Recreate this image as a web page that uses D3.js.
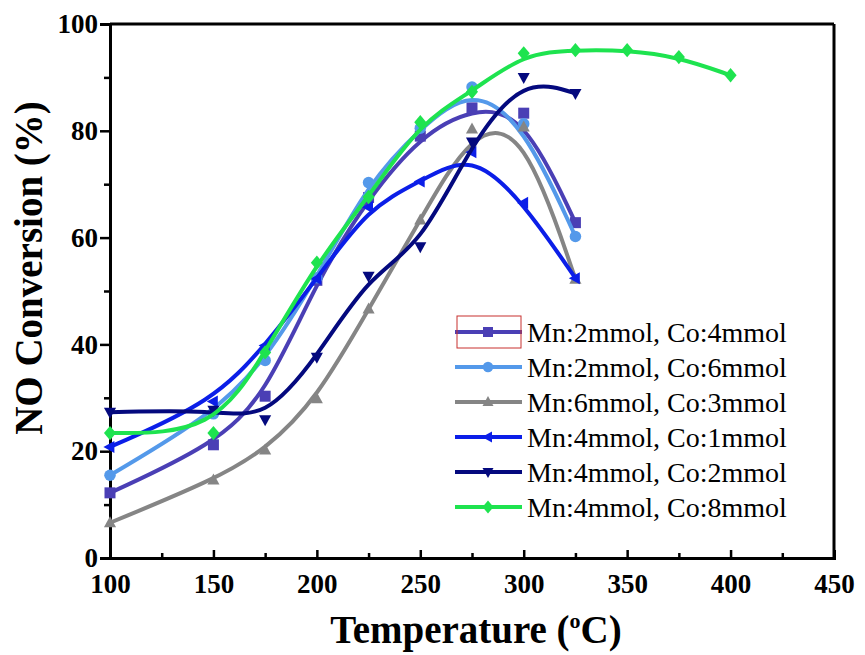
<!DOCTYPE html>
<html>
<head>
<meta charset="utf-8">
<script src="https://cdn.jsdelivr.net/npm/d3@7"></script>
<style>
  body { margin: 0; background: #fff; }
</style>
</head>
<body>
<svg id="chart" width="865" height="655"></svg>
<script>
const svg = d3.select('#chart')
const serif = "'Liberation Serif', 'Times New Roman', Times, 'Nimbus Roman', 'DejaVu Serif', serif"

// data
const temps = [100, 150, 175, 200, 225, 250, 275, 300, 325]
const tempsLong = [100, 150, 175, 200, 225, 250, 275, 300, 325, 350, 375, 400]
const mn2co4 = [12.2, 21.2, 30.3, 52, 67.5, 79, 84.3, 83.3, 62.8]
const mn2co6 = [15.5, 27, 37, 52.5, 70.3, 80.5, 88.2, 81.3, 60.2]
const mn6co3 = [6.6, 14.6, 20.2, 29.8, 46.6, 63.3, 80.3, 80.7, 52.2]
const mn4co1 = [20.8, 29.3, 39.8, 52.3, 65.7, 70.5, 76, 66.5, 52.4]
const mn4co2 = [27.3, 27.7, 25.9, 37.6, 52.8, 58.3, 77.9, 90, 87]
const mn4co8 = [23.4, 23.4, 38.5, 55.3, 67.6, 81.6, 87.3, 94.5, 95.1, 95.1, 93.8, 90.4]
const seriesNames = ['Mn:2mmol, Co:4mmol', 'Mn:2mmol, Co:6mmol', 'Mn:6mmol, Co:3mmol',
  'Mn:4mmol, Co:1mmol', 'Mn:4mmol, Co:2mmol', 'Mn:4mmol, Co:8mmol']
const xTicks = [100, 150, 200, 250, 300, 350, 400, 450]
const yTicks = [0, 20, 40, 60, 80, 100]

const series = [
  { name: seriesNames[0], x: temps, y: mn2co4, color: '#4a3fb5', shape: 'square' },
  { name: seriesNames[1], x: temps, y: mn2co6, color: '#5499ea', shape: 'circle' },
  { name: seriesNames[2], x: temps, y: mn6co3, color: '#858585', shape: 'up' },
  { name: seriesNames[3], x: temps, y: mn4co1, color: '#0b1ee8', shape: 'left' },
  { name: seriesNames[4], x: temps, y: mn4co2, color: '#04097e', shape: 'down' },
  { name: seriesNames[5], x: tempsLong, y: mn4co8, color: '#1ee34f', shape: 'diamond' }
]

const pLeft = 110, pRight = 834, pTop = 24, pBottom = 558

const xScale = d3.scaleLinear().domain([100, 450]).range([pLeft, pRight])
const yScale = d3.scaleLinear().domain([0, 100]).range([pBottom, pTop])

// markers
const markerPath = (shape, s) => {
  if (shape === 'square') return `M${-s},${-s}H${s}V${s}H${-s}Z`
  if (shape === 'circle') return d3.symbol(d3.symbolCircle, Math.PI * s * s * 1.1)()
  if (shape === 'up') return `M0,${-s * 1.2}L${s * 1.1},${s * 0.8}L${-s * 1.1},${s * 0.8}Z`
  if (shape === 'down') return `M0,${s * 1.2}L${s * 1.1},${-s * 0.8}L${-s * 1.1},${-s * 0.8}Z`
  if (shape === 'left') return `M${-s * 1.2},0L${s * 0.8},${-s * 1.1}L${s * 0.8},${s * 1.1}Z`
  if (shape === 'diamond') return `M0,${-s * 1.3}L${s * 1.1},0L0,${s * 1.3}L${-s * 1.1},0Z`
}

// frame: top and right borders
svg.append('line').attr('x1', pLeft).attr('x2', pRight).attr('y1', pTop).attr('y2', pTop)
  .attr('stroke', '#000').attr('stroke-width', 3)
svg.append('line').attr('x1', pRight).attr('x2', pRight).attr('y1', pTop).attr('y2', pBottom)
  .attr('stroke', '#000').attr('stroke-width', 3)

// y axis, ticks outward
svg.append('g')
  .attr('transform', `translate(${pLeft},0)`)
  .call(d3.axisLeft(yScale).tickValues(yTicks).tickSize(10).tickPadding(2).tickFormat(d3.format('d')))
svg.append('g')
  .attr('transform', `translate(${pLeft},0)`)
  .call(d3.axisLeft(yScale).tickValues([10, 30, 50, 70, 90]).tickSize(6).tickFormat(''))
  .select('.domain').remove()

// x axis, ticks inward
svg.append('g')
  .attr('transform', `translate(0,${pBottom})`)
  .call(d3.axisBottom(xScale).tickValues(xTicks).tickSize(-8).tickPadding(16).tickFormat(d3.format('d')))
svg.append('g')
  .attr('transform', `translate(0,${pBottom})`)
  .call(d3.axisBottom(xScale).tickValues([125, 175, 225, 275, 325, 375, 425]).tickSize(-5).tickFormat(''))
  .select('.domain').remove()

svg.selectAll('g').attr('font-family', serif)
svg.selectAll('.domain').attr('stroke-width', 3).attr('stroke', '#000')
svg.selectAll('.tick line').attr('stroke-width', 2.5).attr('stroke', '#000')
svg.selectAll('.tick text')
  .attr('font-family', serif)
  .attr('font-size', 27)
  .attr('font-weight', 'bold')
  .attr('fill', '#000')

// axis titles
const xTitle = svg.append('text')
  .attr('x', 476).attr('y', 643)
  .attr('text-anchor', 'middle')
  .attr('font-family', serif)
  .attr('font-size', 39).attr('font-weight', 'bold')
xTitle.append('tspan').text('Temperature (')
xTitle.append('tspan').attr('dy', -15).attr('font-size', 22).text('o')
xTitle.append('tspan').attr('dy', 15).text('C)')

svg.append('text')
  .attr('transform', 'rotate(-90)')
  .attr('x', -268).attr('y', 42)
  .attr('text-anchor', 'middle')
  .attr('font-family', serif)
  .attr('font-size', 39).attr('font-weight', 'bold')
  .text('NO Conversion (%)')

// smoothed lines
const line = d3.line()
  .x(d => xScale(d[0]))
  .y(d => yScale(d[1]))
  .curve(d3.curveBasis)

series.forEach(s => {
  const pts = s.x.map((t, i) => [t, s.y[i]])
  svg.append('path')
    .datum(pts)
    .attr('d', line)
    .attr('fill', 'none')
    .attr('stroke', s.color)
    .attr('stroke-width', 4)
  svg.append('g')
    .selectAll('path')
    .data(pts)
    .enter()
    .append('path')
    .attr('transform', d => `translate(${xScale(d[0])},${yScale(d[1])})`)
    .attr('d', markerPath(s.shape, 5.5))
    .attr('fill', s.color)
})

// legend
const legX = 455, legY = 332, legStep = 35
series.forEach((s, i) => {
  const y = legY + i * legStep
  svg.append('line').attr('x1', legX).attr('x2', legX + 67).attr('y1', y).attr('y2', y)
    .attr('stroke', s.color).attr('stroke-width', 4)
  svg.append('path').attr('transform', `translate(${legX + 33},${y})`)
    .attr('d', markerPath(s.shape, 5)).attr('fill', s.color)
  svg.append('text').attr('x', legX + 72).attr('y', y + 10)
    .attr('font-family', serif)
    .attr('font-size', 28)
    .text(s.name)
})
svg.append('rect').attr('x', 457).attr('y', 316).attr('width', 64).attr('height', 32)
  .attr('fill', 'none').attr('stroke', '#c8302f').attr('stroke-width', 1)
</script>
</body>
</html>
